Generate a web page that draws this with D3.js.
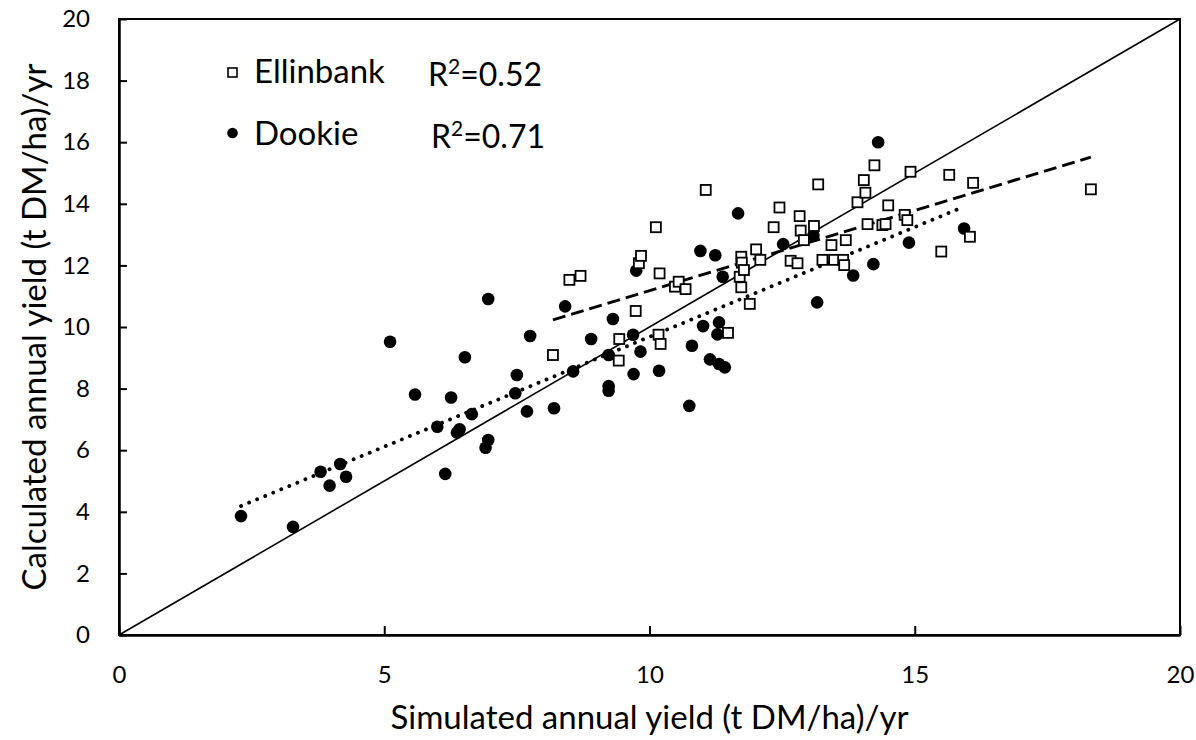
<!DOCTYPE html>
<html>
<head>
<meta charset="utf-8">
<script src="https://cdn.jsdelivr.net/npm/d3@7"></script>
<style>
  body { margin: 0; background: #fff; }
  svg text { font-family: Lato, "Open Sans", sans-serif; fill: #000; }
</style>
</head>
<body>
<div id="chart"></div>
<script>
{
    const width = 1196,
        height = 740;
    const margin = {top: 19, right: 16, bottom: 105, left: 119};

    // Ellinbank (open squares): [simulated, calculated]
    const ellinbankX = [8.18, 8.49, 8.70, 9.42, 9.43, 9.74, 9.80, 9.84, 10.12, 10.19, 10.17, 10.21, 10.48, 10.55,
        10.68, 11.06, 11.48, 11.70, 11.73, 11.73, 11.74, 11.78, 11.89, 12.01, 12.09, 12.34, 12.45, 12.66,
        12.79, 12.83, 12.85, 12.91, 13.10, 13.18, 13.26, 13.43, 13.48, 13.65, 13.67, 13.70, 13.92, 14.04,
        14.07, 14.11, 14.24, 14.39, 14.45, 14.50, 14.81, 14.86, 14.92, 15.50, 15.65, 16.04, 16.10, 18.32];
    const ellinbankY = [9.09, 11.53, 11.66, 8.91, 9.61, 10.52, 12.07, 12.31, 13.24, 11.74, 9.75, 9.45, 11.31, 11.47,
        11.23, 14.45, 9.81, 11.63, 11.29, 12.28, 12.09, 11.85, 10.75, 12.52, 12.18, 13.24, 13.88, 12.15,
        12.07, 13.60, 13.13, 12.82, 13.28, 14.63, 12.18, 12.66, 12.18, 12.18, 12.01, 12.82, 14.05, 14.77,
        14.36, 13.34, 15.25, 13.31, 13.34, 13.95, 13.64, 13.47, 15.04, 12.45, 14.94, 12.93, 14.68, 14.47];

    // Dookie (filled circles)
    const dookieX = [2.30, 3.28, 3.80, 3.97, 4.17, 4.28, 5.11, 5.58, 6.00, 6.15, 6.26, 6.37, 6.42, 6.52, 6.65,
        6.91, 6.96, 6.96, 7.47, 7.50, 7.69, 7.75, 8.20, 8.41, 8.56, 8.90, 9.23, 9.23, 9.23, 9.31, 9.69,
        9.70, 9.75, 9.83, 10.18, 10.75, 10.80, 10.96, 11.01, 11.14, 11.24, 11.28, 11.31, 11.31, 11.38,
        11.42, 11.67, 12.52, 13.09, 13.16, 13.84, 14.22, 14.31, 14.89, 15.93];
    const dookieY = [3.86, 3.51, 5.30, 4.85, 5.55, 5.14, 9.52, 7.81, 6.76, 5.23, 7.71, 6.57, 6.68, 9.02, 7.17,
        6.08, 6.33, 10.91, 7.85, 8.44, 7.26, 9.71, 7.36, 10.67, 8.56, 9.61, 9.09, 8.08, 7.93, 10.26, 9.75,
        8.47, 11.83, 9.20, 8.58, 7.44, 9.39, 12.47, 10.03, 8.95, 12.33, 9.76, 10.15, 8.80, 11.63,
        8.69, 13.69, 12.69, 12.97, 10.80, 11.67, 12.04, 16.00, 12.74, 13.20];

    // trend lines: [slope, intercept]
    const ellinbankFit = [0.521, 5.97];
    const dookieFit = [0.713, 2.55];

    const seriesNames = ["Ellinbank", "Dookie"];
    const r2Labels = ["0.52", "0.71"];
    const xTicks = [0, 5, 10, 15, 20];
    const yTicks = [0, 2, 4, 6, 8, 10, 12, 14, 16, 18, 20];

    const svg = d3.select("#chart")
        .append("svg")
        .attr("width", width)
        .attr("height", height);

    const x = d3.scaleLinear().domain([0, 20]).range([margin.left, width - margin.right]);
    const y = d3.scaleLinear().domain([0, 20]).range([height - margin.bottom, margin.top]);

    // frame
    svg.append("rect")
        .attr("x", x(0)).attr("y", y(20))
        .attr("width", x(20) - x(0)).attr("height", y(0) - y(20))
        .attr("fill", "none").attr("stroke", "#000").attr("stroke-width", 2);

    // axes, ticks pointing inward
    const xAxis = svg.append("g")
        .attr("transform", `translate(0,${y(0)})`)
        .call(d3.axisBottom(x).tickValues(xTicks).tickSizeInner(-9).tickSizeOuter(0).tickPadding(31));
    const yAxis = svg.append("g")
        .attr("transform", `translate(${x(0)},0)`)
        .call(d3.axisLeft(y).tickValues(yTicks).tickSizeInner(-8).tickSizeOuter(0).tickPadding(29));
    [xAxis, yAxis].forEach(function(a){
        a.select(".domain").attr("stroke-width", 2.5);
        a.selectAll(".tick line").attr("stroke-width", 2);
        a.selectAll(".tick text").style("font-size", "24px");
    });

    // 1:1 line
    svg.append("line")
        .attr("x1", x(0)).attr("y1", y(0))
        .attr("x2", x(20)).attr("y2", y(20))
        .attr("stroke", "#000").attr("stroke-width", 1.6);

    // trend lines
    function fitLine(xs, fit){
        const ext = d3.extent(xs);
        return ext.map(v => [v, fit[0] * v + fit[1]]);
    }
    const line = d3.line().x(d => x(d[0])).y(d => y(d[1]));

    svg.append("path")
        .attr("d", line(fitLine(ellinbankX, ellinbankFit)))
        .attr("fill", "none").attr("stroke", "#000")
        .attr("stroke-width", 3).attr("stroke-dasharray", "13 6");

    svg.append("path")
        .attr("d", line(fitLine(dookieX, dookieFit)))
        .attr("fill", "none").attr("stroke", "#000")
        .attr("stroke-width", 3.8).attr("stroke-linecap", "round")
        .attr("stroke-dasharray", "0.1 8.6");

    // points
    const ellinbank = ellinbankX.map((v, i) => [v, ellinbankY[i]]);
    const dookie = dookieX.map((v, i) => [v, dookieY[i]]);

    svg.append("g").selectAll("circle")
        .data(dookie)
        .join("circle")
        .attr("cx", d => x(d[0]))
        .attr("cy", d => y(d[1]))
        .attr("r", 6.3)
        .attr("fill", "#000");

    svg.append("g").selectAll("rect")
        .data(ellinbank)
        .join("rect")
        .attr("x", d => x(d[0]) - 5)
        .attr("y", d => y(d[1]) - 5)
        .attr("width", 10)
        .attr("height", 10)
        .attr("fill", "#fff")
        .attr("stroke", "#000")
        .attr("stroke-width", 1.8);

    // legend
    const legend = svg.append("g");
    legend.append("rect")
        .attr("x", 228).attr("y", 68).attr("width", 9).attr("height", 9)
        .attr("fill", "#fff").attr("stroke", "#000").attr("stroke-width", 1.6);
    legend.append("circle")
        .attr("cx", 232.5).attr("cy", 133).attr("r", 5.3).attr("fill", "#000");

    const legendY = [83, 145];
    seriesNames.forEach(function(name, i){
        legend.append("text")
            .attr("x", 254).attr("y", legendY[i])
            .style("font-size", "33px")
            .text(name);
        const t = legend.append("text")
            .attr("x", 428 + i * 3).attr("y", legendY[i] + 3)
            .style("font-size", "32px");
        t.append("tspan").text("R");
        t.append("tspan").attr("dy", -12).style("font-size", "21px").text("2");
        t.append("tspan").attr("dy", 12).text("=" + r2Labels[i]);
    });

    // axis titles
    svg.append("text")
        .attr("x", (x(0) + x(20)) / 2)
        .attr("y", 729)
        .attr("text-anchor", "middle")
        .style("font-size", "33px")
        .text("Simulated annual yield (t DM/ha)/yr");

    svg.append("text")
        .attr("transform", `translate(46,${(y(0) + y(20)) / 2}) rotate(-90)`)
        .attr("text-anchor", "middle")
        .style("font-size", "33px")
        .text("Calculated annual yield (t DM/ha)/yr");
}
</script>
</body>
</html>
